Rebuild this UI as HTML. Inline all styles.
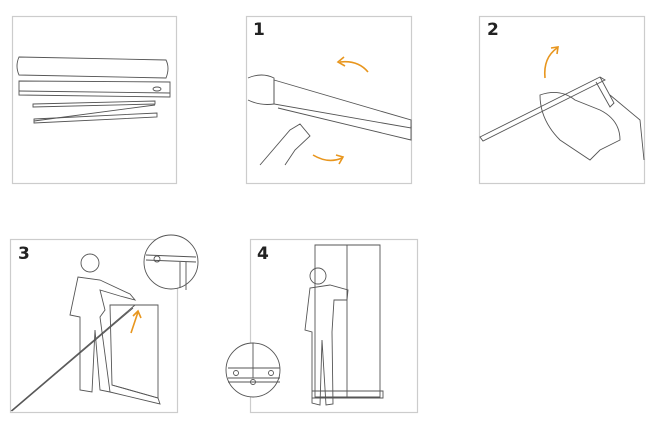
<!DOCTYPE html>
<html><head><meta charset="utf-8"><style>
html,body{margin:0;padding:0;background:#fff;}
svg{display:block}
text{font-family:"DejaVu Sans","Liberation Sans",sans-serif;font-weight:bold;font-size:17px;fill:#222}
</style></head><body>
<svg width="659" height="421" viewBox="0 0 659 421" xmlns="http://www.w3.org/2000/svg">
<g fill="none" stroke="#ccc" stroke-width="1.2">
<rect x="12.5" y="16.5" width="164" height="167"/>
<rect x="246.5" y="16.5" width="165" height="167"/>
<rect x="479.5" y="16.5" width="165" height="167"/>
<rect x="10.5" y="239.5" width="167" height="173"/>
<rect x="250.5" y="239.5" width="167" height="173"/>
</g>
<text x="253" y="35">1</text>
<text x="487" y="35">2</text>
<text x="18" y="259">3</text>
<text x="257" y="259">4</text>
<g fill="none" stroke="#555" stroke-width="0.9">
<path d="M19 57 L166 60 Q170 68 166 78 L19 75 Q15 66 19 57Z"/>
<path d="M19 81 L170 82 L170 97 L19 95Z"/><path d="M19 91 L170 93"/>
<ellipse cx="157" cy="89" rx="4" ry="2"/>
<path d="M33 104 L155 101 L155 104 L33 107Z"/>
<path d="M34 119 L157 113 L157 117 L34 123Z"/><path d="M34 121 L155 105"/>
<path d="M248 78 Q262 72 274 78 L274 104 Q260 106 248 100"/>
<path d="M274 80 L411 120 L411 128 L274 104Z"/><path d="M278 108 L411 140 L411 126"/>
<path d="M260 165 L290 130 L300 124 L310 136 L295 150 L285 165"/>
<path d="M480 137 L600 77 L605 80 L483 141Z"/>
<path d="M600 77 L614 103 L610 107 L596 82"/>
<path d="M540 95 Q560 88 575 100 L600 110 Q620 120 620 140 L600 150 L590 160 L560 140 Q540 120 540 95Z"/>
<path d="M610 95 L640 120 L644 160"/>
<path d="M11 411 L135 305"/><path d="M12 411 L133 308"/>
<circle cx="90" cy="263" r="9"/>
<path d="M78 277 L70 315 L80 317 L80 390 L92 392 L95 330 L100 390 L110 392 L100 317 L105 310 L100 290 L120 296 L135 300 L130 294 L100 280 Z"/>
<path d="M110 305 L158 305 L158 398 L112 385Z"/>
<path d="M112 385 L158 398 L160 404 L110 392"/>
<circle cx="171" cy="262" r="27" fill="#fff"/>
<path d="M146 255 L196 257 M146 260 L196 262 M180 262 L180 288 M186 262 L186 290"/>
<circle cx="157" cy="259" r="3"/>
<path d="M315 245 L380 245 L380 397 L315 397Z"/><path d="M347 245 L347 397"/>
<path d="M312 391 L383 391 L383 398 L312 398"/>
<circle cx="318" cy="276" r="8"/>
<path d="M310 288 L305 330 L312 332 L312 403 L320 405 L322 340 L326 405 L333 404 L332 332 L334 300 L347 300 L348 290 L330 285 Z"/>
<circle cx="253" cy="370" r="27" fill="#fff"/>
<path d="M228 368 L280 368 M228 378 L280 378 M228 382 L280 382 M253 343 L253 378"/>
<circle cx="236" cy="373" r="2.5"/><circle cx="271" cy="373" r="2.5"/><circle cx="253" cy="382" r="2.5"/>
</g>
<g fill="none" stroke="#e8961e" stroke-width="1.6">
<path d="M368 72 Q358 60 340 62"/><path d="M344 57 L338 62 L345 66"/>
<path d="M313 155 Q328 164 342 158"/><path d="M336 155 L343 157 L339 164"/>
<path d="M545 78 Q543 58 557 48"/><path d="M551 48 L558 47 L557 54"/>
<path d="M131 333 L138 312"/><path d="M133 316 L138 311 L141 318"/>
</g>
</svg>
</body></html>
